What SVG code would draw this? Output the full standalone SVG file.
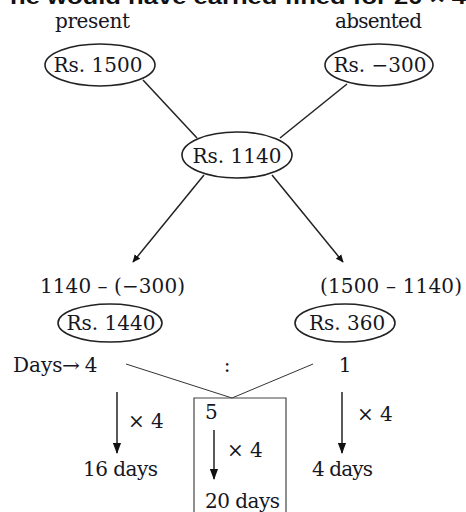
<svg xmlns="http://www.w3.org/2000/svg" width="466" height="512" viewBox="0 0 466 512">
  <defs>
    <style>
      .t { font-family: "DejaVu Serif", "Liberation Serif", serif; font-size: 20px; fill: #16161e; }
      .hd { font-family: "Liberation Sans", Arial, sans-serif; font-size: 20px; font-weight: bold; fill: #111; }
      .oval { fill: none; stroke: #222; stroke-width: 1.6; }
      .ln { fill: none; stroke: #222; stroke-width: 1.5; }
      .thin { fill: none; stroke: #333; stroke-width: 1; }
      .box { fill: none; stroke: #444; stroke-width: 1.2; }
    </style>
    <marker id="ah" viewBox="0 0 10 10" refX="9" refY="5" markerWidth="8" markerHeight="8" orient="auto" markerUnits="userSpaceOnUse">
      <path d="M0,0.5 L10,5 L0,9.5 z" fill="#111"/>
    </marker>
    <marker id="ahv" viewBox="0 0 12 10" refX="11" refY="5" markerWidth="11" markerHeight="9" orient="auto" markerUnits="userSpaceOnUse">
      <path d="M0,0.5 L12,5 L0,9.5 z" fill="#111"/>
    </marker>
  </defs>

  <rect width="466" height="512" fill="#fff"/>

  <!-- heading line, clipped at the top edge -->
  <text class="hd" x="10" y="4" textLength="456" lengthAdjust="spacingAndGlyphs">he would have earned fined for 20 × 4</text>

  <g id="labels">
    <text class="t" x="55" y="28" textLength="75">present</text>
    <text class="t" x="335" y="28" textLength="87">absented</text>
  </g>

  <!-- connectors -->
  <g id="connectors">
    <line class="ln" x1="143" y1="80" x2="197" y2="138"/>
    <line class="ln" x1="347" y1="84" x2="280" y2="138"/>
    <line class="ln" x1="204" y1="175" x2="133" y2="262" marker-end="url(#ah)"/>
    <line class="ln" x1="272" y1="175" x2="343" y2="262" marker-end="url(#ah)"/>
    <!-- ratio split lines -->
    <polyline class="thin" points="126,364 232,398 313,364"/>
    <!-- ×4 arrows -->
    <line class="ln" x1="117" y1="392" x2="117" y2="453" marker-end="url(#ahv)"/>
    <line class="ln" x1="342" y1="392" x2="342" y2="453" marker-end="url(#ahv)"/>
    <line class="ln" x1="214" y1="430" x2="214" y2="479" marker-end="url(#ahv)"/>
  </g>

  <g id="present-rate">
    <ellipse class="oval" cx="100" cy="65" rx="55" ry="21"/>
    <text class="t" x="98" y="72" text-anchor="middle">Rs. 1500</text>
  </g>

  <g id="absent-rate">
    <ellipse class="oval" cx="379" cy="65" rx="54" ry="21"/>
    <text class="t" x="380" y="72" text-anchor="middle">Rs. −300</text>
  </g>

  <g id="average">
    <ellipse class="oval" cx="237" cy="155" rx="55" ry="23"/>
    <text class="t" x="237" y="163" text-anchor="middle">Rs. 1140</text>
  </g>

  <g id="left-diff">
    <text class="t" x="40" y="293" textLength="145">1140 – (−300)</text>
    <ellipse class="oval" cx="110" cy="323" rx="52" ry="19"/>
    <text class="t" x="111" y="330" text-anchor="middle">Rs. 1440</text>
  </g>

  <g id="right-diff">
    <text class="t" x="320" y="293" textLength="142">(1500 – 1140)</text>
    <ellipse class="oval" cx="345" cy="323" rx="50" ry="19"/>
    <text class="t" x="347" y="330" text-anchor="middle">Rs. 360</text>
  </g>

  <g id="days-ratio">
    <text class="t" x="13" y="372">Days</text>
    <text class="t" x="62" y="372" textLength="18" lengthAdjust="spacingAndGlyphs">→</text>
    <text class="t" x="91" y="372" text-anchor="middle">4</text>
    <text class="t" x="227" y="372" text-anchor="middle">:</text>
    <text class="t" x="345" y="372" text-anchor="middle">1</text>
  </g>

  <g id="left-result">
    <text class="t" x="128" y="428">× 4</text>
    <text class="t" x="83" y="476" textLength="75">16 days</text>
  </g>

  <g id="right-result">
    <text class="t" x="357" y="421">× 4</text>
    <text class="t" x="312" y="476" textLength="61">4 days</text>
  </g>

  <g id="total">
    <polyline class="box" points="194,513 194,398 286,398 286,513"/>
    <text class="t" x="205" y="419">5</text>
    <text class="t" x="227" y="457">× 4</text>
    <text class="t" x="205" y="508" textLength="75">20 days</text>
  </g>
</svg>
